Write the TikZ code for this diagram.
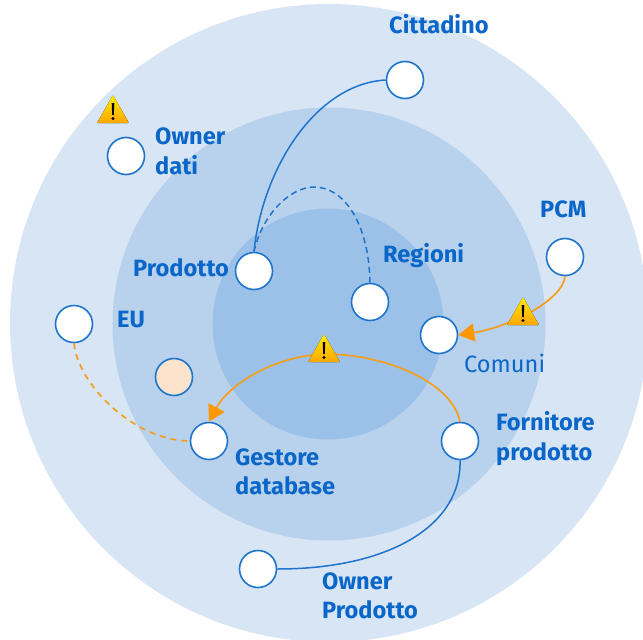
\documentclass[tikz,border=0pt]{standalone}
\usepackage{fontspec}
\setmainfont{Fira Sans}
\usetikzlibrary{arrows.meta}
\definecolor{ringa}{HTML}{D8E5F5}
\definecolor{ringb}{HTML}{B8D1ED}
\definecolor{ringc}{HTML}{9CC1E8}
\definecolor{edgeblue}{HTML}{1F74CC}
\definecolor{txtblue}{HTML}{0A66C8}
\definecolor{orangeln}{HTML}{F59E1B}
\definecolor{tipor}{HTML}{FF9800}
\definecolor{peach}{HTML}{FCE3CC}
\tikzset{
 actor/.style={circle,draw=edgeblue,line width=1.6pt,fill=white,minimum size=37pt,inner sep=0pt},
 lab/.style={text=txtblue,font=\fontsize{23.6}{29.5}\selectfont\bfseries,align=left,anchor=west,inner sep=0pt},
 labreg/.style={text=txtblue,font=\fontsize{23.6}{29.5}\selectfont,align=left,anchor=west,inner sep=0pt},
 blueln/.style={draw=edgeblue,line width=1.5pt},
 orln/.style={draw=orangeln,line width=1.7pt},
 tip/.style={-{Triangle[length=16pt,width=18pt,color=tipor,fill=tipor]}}
}
\newcommand{\warn}[2]{%
 \fill[rounded corners=1pt,top color=yellow!85!orange,bottom color=orange!70!yellow] (#1-16,#2+12) -- (#1,#2-16) -- (#1+16,#2+12) -- cycle;
 \fill[black] (#1-1.3,#2-8) -- (#1+1.3,#2-8) -- (#1+0.8,#2+4) -- (#1-0.8,#2+4) -- cycle;
 \fill[black] (#1,#2+7.5) circle (1.6);
}
\begin{document}
\begin{tikzpicture}[x=1pt,y=-1pt]
\useasboundingbox (0,0) rectangle (643,640);
\begin{scope}
\clip (0,0) rectangle (643,640);
\fill[ringa] (329,323) circle (319);
\fill[ringb] (329,324) circle (216.5);
\fill[ringc] (328,324) circle (115.5);
\end{scope}
\node[actor] (cit) at (405,80) {};
\node[actor] (own) at (126,156) {};
\node[actor] (pcm) at (565,257) {};
\node[actor] (pro) at (254,271) {};
\node[actor] (reg) at (370,302) {};
\node[actor] (com) at (439,335) {};
\node[actor] (eu) at (74,324) {};
\node[actor,fill=peach] (pea) at (174,377) {};
\node[actor] (ges) at (209,441) {};
\node[actor] (for) at (460,441) {};
\node[actor] (opr) at (258,569) {};
\draw[blueln] (pro.north) .. controls (262,170) and (315,84) .. (cit.west);
\draw[blueln,dash pattern=on 6pt off 4pt] (pro.north) .. controls (262,215) and (290,187) .. (314,187) .. controls (345,187) and (369,225) .. (reg.north);
\draw[orln,tip] (pcm.south) .. controls (563,300) and (510,327) .. (com.east);
\draw[orln,tip] (for.north) .. controls (452,382) and (385,354) .. (325,354) .. controls (272,356) and (228,386) .. (ges.north);
\draw[orln,dash pattern=on 6pt off 5pt] (eu.south) .. controls (78,385) and (135,441) .. (ges.west);
\draw[blueln] (for.south) .. controls (462,525) and (390,569) .. (opr.east);
\warn{113}{111}
\warn{523}{313}
\warn{324}{350}
\node[lab] (t1) at (389,24) {Cittadino};
\node[lab] (t2) at (155,151.5) {Owner\\dati};
\node[lab] (t3) at (540,209) {PCM};
\node[lab] (t4) at (133,268) {Prodotto};
\node[lab] (t5) at (383,256) {Regioni};
\node[lab] (t6) at (117,320) {EU};
\node[labreg] (t7) at (464,363) {Comuni};
\node[lab] (t8) at (235,472) {Gestore\\database};
\node[lab] (t9) at (496,438.5) {Fornitore\\prodotto};
\node[lab] (t10) at (322,596) {Owner\\Prodotto};
\end{tikzpicture}
\end{document}
